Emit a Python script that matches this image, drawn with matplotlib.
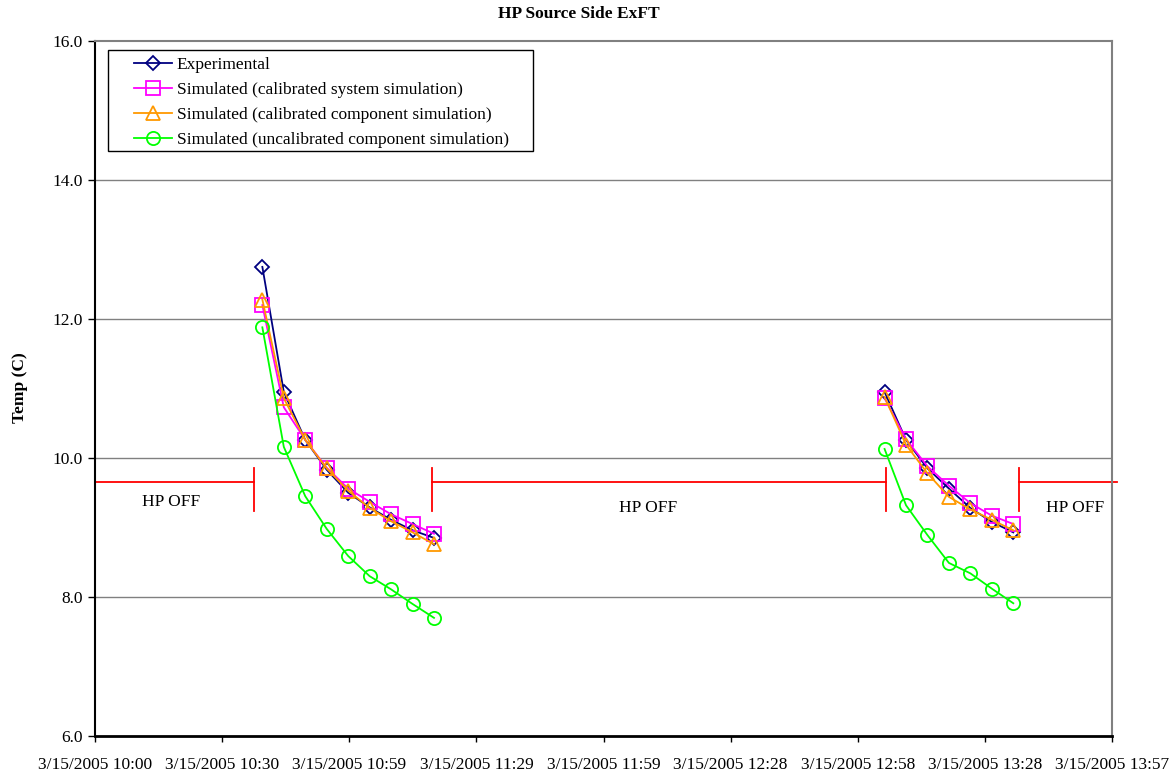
import matplotlib.pyplot as plt
import numpy as np
from matplotlib.patches import Rectangle

plt.rcParams['font.family'] = ['Liberation Serif', 'DejaVu Serif']

# sample times (clock) of the two HP-on periods
times_run1 = ['10:39', '10:44', '10:49', '10:54', '10:59', '11:04', '11:09', '11:14', '11:19']
times_run2 = ['13:04', '13:09', '13:14', '13:19', '13:24', '13:29', '13:34']

exp_run1 = [12.75, 10.95, 10.26, 9.83, 9.50, 9.29, 9.11, 8.96, 8.85]
exp_run2 = [10.95, 10.26, 9.85, 9.56, 9.28, 9.08, 8.93]

sys_run1 = [12.20, 10.73, 10.26, 9.86, 9.56, 9.37, 9.19, 9.05, 8.91]
sys_run2 = [10.86, 10.27, 9.88, 9.60, 9.35, 9.17, 9.05]

comp_run1 = [12.28, 10.86, 10.26, 9.85, 9.53, 9.28, 9.09, 8.93, 8.76]
comp_run2 = [10.88, 10.19, 9.78, 9.44, 9.26, 9.11, 8.96]

uncal_run1 = [11.88, 10.16, 9.45, 8.98, 8.59, 8.30, 8.11, 7.90, 7.70]
uncal_run2 = [10.13, 9.32, 8.89, 8.49, 8.34, 8.12, 7.91]

tick_labels = ['3/15/2005 10:00', '3/15/2005 10:30', '3/15/2005 10:59',
               '3/15/2005 11:29', '3/15/2005 11:59', '3/15/2005 12:28',
               '3/15/2005 12:58', '3/15/2005 13:28', '3/15/2005 13:57']

# HP OFF periods, minutes after 10:00 (start, end)
hp_off_spans = [(0.0, 37.0), (78.6, 184.3), (215.4, 238.2)]
hp_off_level = 9.65


def to_min(t):
    h, m = t.split(':')
    return (int(h) - 10) * 60 + int(m)


def join(a, b):
    return np.array(list(a) + [np.nan] + list(b), dtype=float)


x = join([to_min(t) for t in times_run1], [to_min(t) for t in times_run2])

fig = plt.figure(figsize=(11.75, 7.75), dpi=100)
ax = fig.add_axes([95 / 1175, 1 - 736 / 775, 1017 / 1175, 695 / 775])

x_max = 237.0
ax.set_xlim(0, x_max)
ax.set_ylim(6, 16)

ax.set_yticks([6, 8, 10, 12, 14, 16])
ax.set_yticklabels(['%.1f' % v for v in [6, 8, 10, 12, 14, 16]])
ax.set_xticks(np.linspace(0, x_max, 9))
ax.set_xticklabels(tick_labels)

for y in [8, 10, 12, 14]:
    ax.axhline(y, color='#808080', lw=1.0, zorder=0)

ax.spines['top'].set_color('#808080')
ax.spines['right'].set_color('#808080')
ax.spines['top'].set_linewidth(1.5)
ax.spines['right'].set_linewidth(1.5)
ax.spines['left'].set_linewidth(1.5)
ax.spines['bottom'].set_linewidth(2)
ax.tick_params(axis='y', direction='out', length=5, width=1, pad=4, labelsize=12.5)
ax.tick_params(axis='x', direction='out', length=4, width=1, pad=11, labelsize=12.5)

series = [
    (exp_run1, exp_run2, 'Experimental', '#000080', 'D', 7.5),
    (sys_run1, sys_run2, 'Simulated (calibrated system simulation)', '#FF00FF', 's', 9.5),
    (comp_run1, comp_run2, 'Simulated (calibrated component simulation)', '#FF9900', '^', 10),
    (uncal_run1, uncal_run2, 'Simulated (uncalibrated component simulation)', '#00FF00', 'o', 9.5),
]
for r1, r2, name, col, mk, ms in series:
    ax.plot(x, join(r1, r2), color=col, lw=1.3, marker=mk, ms=ms,
            mfc='none', mec=col, mew=1.3, label=name, zorder=3)

# HP OFF markers
span_h = 0.31
for i, (a, b) in enumerate(hp_off_spans):
    ax.plot([a, b], [hp_off_level, hp_off_level], color='#FF0000', lw=1.3,
            clip_on=False, zorder=2)
    if i > 0:
        ax.plot([a, a], [hp_off_level - span_h * 1.35, hp_off_level + span_h * 0.65],
                color='#FF0000', lw=1.3, zorder=2)
    if i < len(hp_off_spans) - 1:
        ax.plot([b, b], [hp_off_level - span_h * 1.35, hp_off_level + span_h * 0.65],
                color='#FF0000', lw=1.3, zorder=2)

ax.text(17.7, 9.37, 'HP OFF', ha='center', va='center', fontsize=12.5)
ax.text(128.9, 9.28, 'HP OFF', ha='center', va='center', fontsize=12.5)
ax.text(228.4, 9.28, 'HP OFF', ha='center', va='center', fontsize=12.5)

# legend with Excel-style box
box = Rectangle((108 / 1175, 1 - 151 / 775), 425 / 1175, 101 / 775,
                transform=fig.transFigure, facecolor='white', edgecolor='black',
                lw=1.0, zorder=5)
fig.patches.append(box)
leg = fig.legend(loc='upper left', bbox_to_anchor=(134 / 1175, 1 - 57 / 775),
                 frameon=False, fontsize=12.5, handlelength=2.2,
                 handletextpad=0.25, labelspacing=0.5, borderpad=0,
                 borderaxespad=0)
leg.set_zorder(6)

fig.text(579 / 1175, 1 - 14 / 775, 'HP Source Side ExFT', ha='center', va='center',
         fontsize=12.5, fontweight='bold')
fig.text(20 / 1175, 1 - 388 / 775, 'Temp (C)', ha='center', va='center',
         rotation=90, fontsize=12.5, fontweight='bold')

fig.savefig('out.png', dpi=100)
